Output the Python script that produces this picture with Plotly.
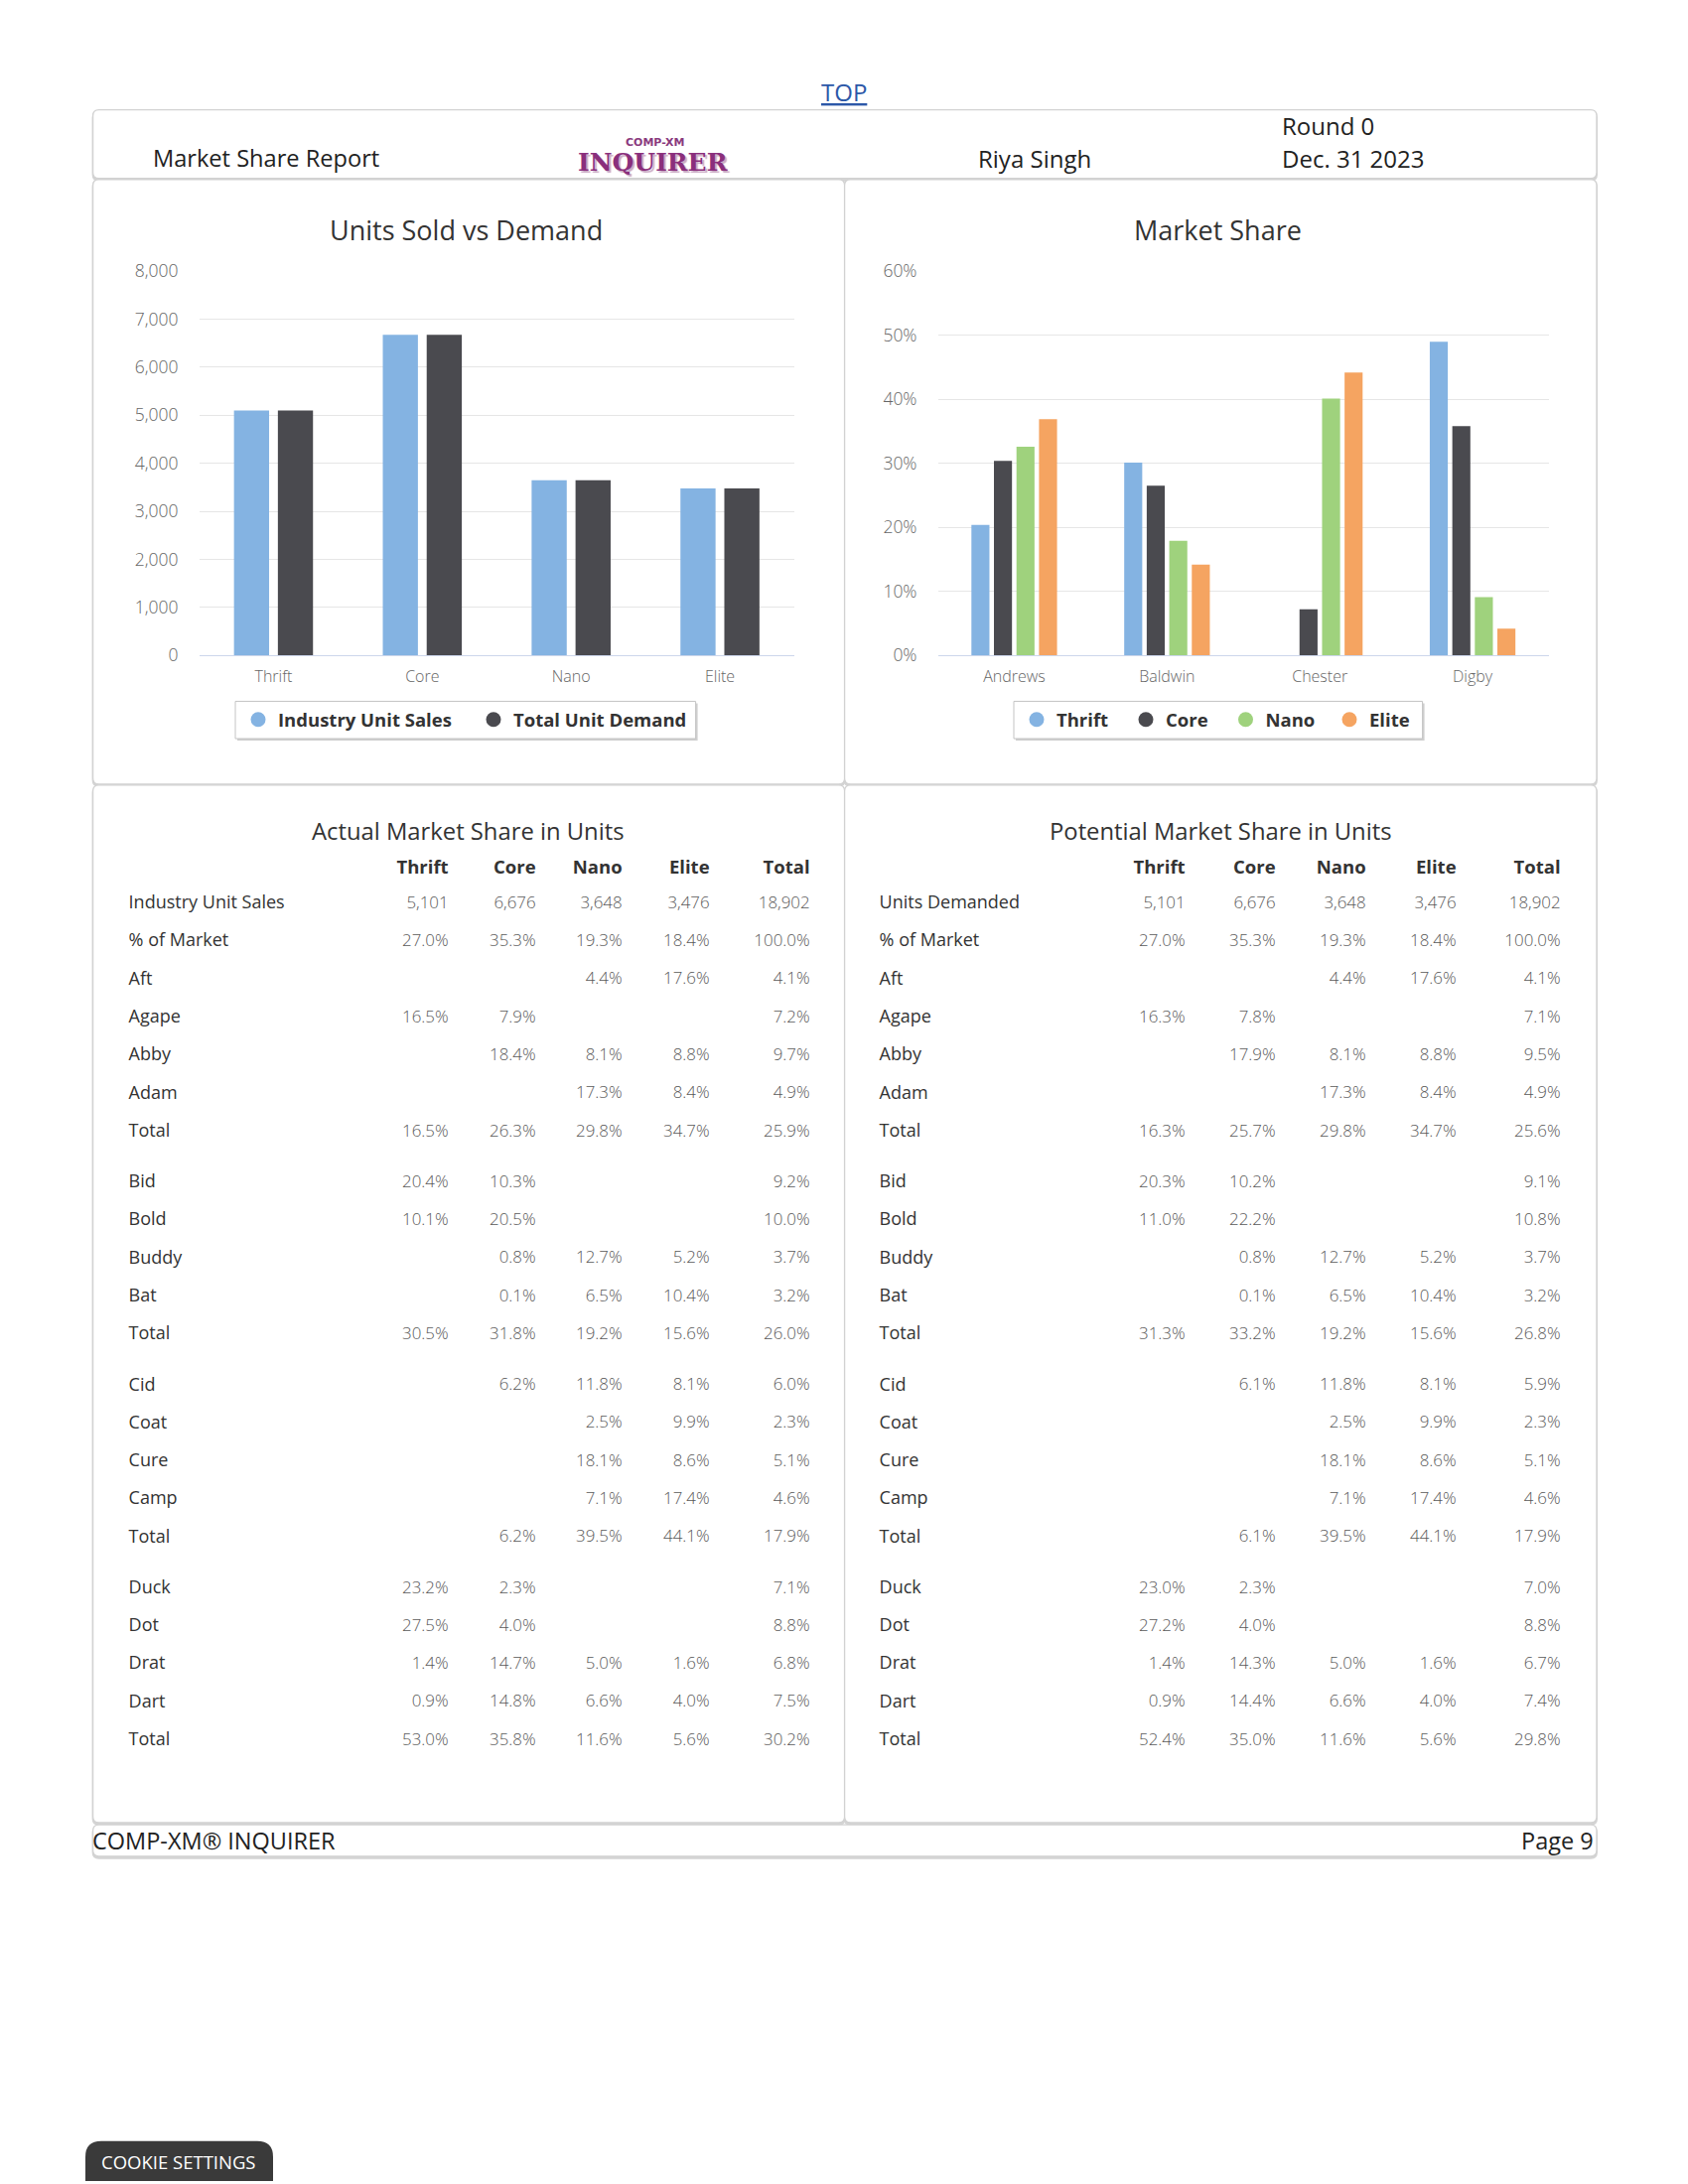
import plotly.graph_objects as go

W, H = 1700, 2200
FONT = "Open Sans, DejaVu Sans, sans-serif"

# ------------------------------------------------------------------ data
segments = ["Thrift", "Core", "Nano", "Elite"]
industry_unit_sales = [5101, 6676, 3648, 3476]
total_unit_demand = [5101, 6676, 3648, 3476]

companies = ["Andrews", "Baldwin", "Chester", "Digby"]
share_thrift = [20.4, 30.1, None, 49.0]
share_core = [30.4, 26.5, 7.2, 35.8]
share_nano = [32.6, 17.9, 40.1, 9.1]
share_elite = [36.9, 14.2, 44.2, 4.2]

table_columns = ["Thrift", "Core", "Nano", "Elite", "Total"]

actual_units_label = "Industry Unit Sales"
actual_units = [5101, 6676, 3648, 3476, 18902]
actual_pct_market = [27.0, 35.3, 19.3, 18.4, 100.0]

potential_units_label = "Units Demanded"
potential_units = [5101, 6676, 3648, 3476, 18902]
potential_pct_market = [27.0, 35.3, 19.3, 18.4, 100.0]

product_groups = [
    ["Aft", "Agape", "Abby", "Adam", "Total"],
    ["Bid", "Bold", "Buddy", "Bat", "Total"],
    ["Cid", "Coat", "Cure", "Camp", "Total"],
    ["Duck", "Dot", "Drat", "Dart", "Total"],
]

actual_andrews = [
    [None, None, 4.4, 17.6, 4.1],
    [16.5, 7.9, None, None, 7.2],
    [None, 18.4, 8.1, 8.8, 9.7],
    [None, None, 17.3, 8.4, 4.9],
    [16.5, 26.3, 29.8, 34.7, 25.9],
]
actual_baldwin = [
    [20.4, 10.3, None, None, 9.2],
    [10.1, 20.5, None, None, 10.0],
    [None, 0.8, 12.7, 5.2, 3.7],
    [None, 0.1, 6.5, 10.4, 3.2],
    [30.5, 31.8, 19.2, 15.6, 26.0],
]
actual_chester = [
    [None, 6.2, 11.8, 8.1, 6.0],
    [None, None, 2.5, 9.9, 2.3],
    [None, None, 18.1, 8.6, 5.1],
    [None, None, 7.1, 17.4, 4.6],
    [None, 6.2, 39.5, 44.1, 17.9],
]
actual_digby = [
    [23.2, 2.3, None, None, 7.1],
    [27.5, 4.0, None, None, 8.8],
    [1.4, 14.7, 5.0, 1.6, 6.8],
    [0.9, 14.8, 6.6, 4.0, 7.5],
    [53.0, 35.8, 11.6, 5.6, 30.2],
]

potential_andrews = [
    [None, None, 4.4, 17.6, 4.1],
    [16.3, 7.8, None, None, 7.1],
    [None, 17.9, 8.1, 8.8, 9.5],
    [None, None, 17.3, 8.4, 4.9],
    [16.3, 25.7, 29.8, 34.7, 25.6],
]
potential_baldwin = [
    [20.3, 10.2, None, None, 9.1],
    [11.0, 22.2, None, None, 10.8],
    [None, 0.8, 12.7, 5.2, 3.7],
    [None, 0.1, 6.5, 10.4, 3.2],
    [31.3, 33.2, 19.2, 15.6, 26.8],
]
potential_chester = [
    [None, 6.1, 11.8, 8.1, 5.9],
    [None, None, 2.5, 9.9, 2.3],
    [None, None, 18.1, 8.6, 5.1],
    [None, None, 7.1, 17.4, 4.6],
    [None, 6.1, 39.5, 44.1, 17.9],
]
potential_digby = [
    [23.0, 2.3, None, None, 7.0],
    [27.2, 4.0, None, None, 8.8],
    [1.4, 14.3, 5.0, 1.6, 6.7],
    [0.9, 14.4, 6.6, 4.0, 7.4],
    [52.4, 35.0, 11.6, 5.6, 29.8],
]

# ------------------------------------------------------------------ styling / layout helpers
C_BLUE, C_DARK, C_GREEN, C_ORANGE = "#84b3e2", "#4a4a4f", "#9fd27d", "#f5a461"


def X(px):
    return px / W


def Y(py):
    return 1 - py / H


fig = go.Figure()
LEG_FONT = dict(family=FONT, size=18.5, color="#333333", weight="bold")
legend_layouts = {}
LEG_Y = 712


def legend_entry(idx, name, color, center_x, xa, ya):
    key = "legend" if idx == 1 else f"legend{idx}"
    fig.add_trace(go.Scatter(x=[None], y=[None], mode="markers", name=name,
                             marker=dict(color=color, size=15, symbol="circle"),
                             xaxis=xa, yaxis=ya, legend=key, hoverinfo="skip"))
    legend_layouts[key] = dict(orientation="h", x=X(center_x - 20), xanchor="left",
                               y=Y(LEG_Y), yanchor="middle", bgcolor="rgba(0,0,0,0)",
                               borderwidth=0, font=LEG_FONT, itemsizing="trace")


# ---- chart 1 : units sold vs demand
fig.add_trace(go.Bar(x=segments, y=industry_unit_sales, name="Industry Unit Sales",
                     marker=dict(color=C_BLUE, line_width=0), xaxis="x", yaxis="y",
                     showlegend=False, hoverinfo="skip"))
fig.add_trace(go.Bar(x=segments, y=total_unit_demand, name="Total Unit Demand",
                     marker=dict(color=C_DARK, line_width=0), xaxis="x", yaxis="y",
                     showlegend=False, hoverinfo="skip"))
legend_entry(1, "Industry Unit Sales", C_BLUE, 252, "x", "y")
legend_entry(2, "Total Unit Demand", C_DARK, 489, "x", "y")

# ---- chart 2 : market share
for nm, vals, col in [("Thrift", share_thrift, C_BLUE), ("Core", share_core, C_DARK),
                      ("Nano", share_nano, C_GREEN), ("Elite", share_elite, C_ORANGE)]:
    fig.add_trace(go.Bar(x=companies, y=vals, name=nm, marker=dict(color=col, line_width=0),
                         xaxis="x2", yaxis="y2", showlegend=False, hoverinfo="skip"))
for i, (nm, col, cxp) in enumerate([("Thrift", C_BLUE, 1036), ("Core", C_DARK, 1146),
                                    ("Nano", C_GREEN, 1246.5), ("Elite", C_ORANGE, 1351)]):
    legend_entry(3 + i, nm, col, cxp, "x2", "y2")


# ---- tables (text cells placed through a hidden pixel-scaled axis pair)
ROW0, PITCH, GROUP_GAP, HEAD_Y = 899.5, 38.69, 13.2, 863.5


def fmt_pct(v):
    return "" if v is None else f"{v:.1f}%"


def add_table(units_label, units, pct, groups, label_x, col_x):
    rows = [(units_label, [f"{v:,}" for v in units], 0),
            ("% of Market", [fmt_pct(v) for v in pct], 0)]
    for g, (names, vals) in enumerate(zip(product_groups, groups)):
        for nm, rv in zip(names, vals):
            rows.append((nm, [fmt_pct(v) for v in rv], g))
    lab_x, lab_y, lab_t = [], [], []
    num_x, num_y, num_t = [], [], []
    for i, (nm, cells, g) in enumerate(rows):
        yy = ROW0 + PITCH * i + GROUP_GAP * g
        lab_x.append(label_x)
        lab_y.append(yy)
        lab_t.append(nm)
        for cx, t in zip(col_x, cells):
            if t:
                num_x.append(cx)
                num_y.append(yy)
                num_t.append(t)
    fig.add_trace(go.Scatter(x=lab_x, y=lab_y, text=lab_t, mode="text", textposition="middle right",
                             textfont=dict(family=FONT, size=18, color="#333333"),
                             xaxis="x3", yaxis="y3", showlegend=False, hoverinfo="skip", cliponaxis=False))
    fig.add_trace(go.Scatter(x=num_x, y=num_y, text=num_t, mode="text", textposition="middle left",
                             textfont=dict(family=FONT, size=16.9, color="#5a5a5a", weight=300),
                             xaxis="x3", yaxis="y3", showlegend=False, hoverinfo="skip", cliponaxis=False))
    fig.add_trace(go.Scatter(x=col_x, y=[HEAD_Y] * len(col_x), text=table_columns, mode="text",
                             textposition="middle left",
                             textfont=dict(family=FONT, size=18.5, color="#333333", weight="bold"),
                             xaxis="x3", yaxis="y3", showlegend=False, hoverinfo="skip", cliponaxis=False))


add_table(actual_units_label, actual_units, actual_pct_market,
          [actual_andrews, actual_baldwin, actual_chester, actual_digby],
          121.6, [443.6, 531.6, 618.6, 706.6, 807.6])
add_table(potential_units_label, potential_units, potential_pct_market,
          [potential_andrews, potential_baldwin, potential_chester, potential_digby],
          877.6, [1185.6, 1276.6, 1367.6, 1458.6, 1563.6])


# ---- panels
def rrect(x0, y0, x1, y1, r=6):
    return (f"M {X(x0 + r)},{Y(y0)} L {X(x1 - r)},{Y(y0)} Q {X(x1)},{Y(y0)} {X(x1)},{Y(y0 + r)} "
            f"L {X(x1)},{Y(y1 - r)} Q {X(x1)},{Y(y1)} {X(x1 - r)},{Y(y1)} "
            f"L {X(x0 + r)},{Y(y1)} Q {X(x0)},{Y(y1)} {X(x0)},{Y(y1 - r)} "
            f"L {X(x0)},{Y(y0 + r)} Q {X(x0)},{Y(y0)} {X(x0 + r)},{Y(y0)} Z")


L, M, R = 85.6, 842.6, 1600
panels = [(L, 90.6, R, 160.4), (L, 161.5, M, 777.3), (M, 161.5, R, 777.3),
          (L, 778.3, M, 1835), (M, 778.3, R, 1835), (L, 1837.2, R, 1869.2)]
shapes = []
for (x0, y0, x1, y1) in panels:
    shapes.append(dict(type="path", xref="paper", yref="paper", path=rrect(x0, y0 + 2, x1, y1 + 2),
                       line=dict(color="#d4d4d4", width=2), fillcolor="#d4d4d4", layer="below"))
for (x0, y0, x1, y1) in panels:
    shapes.append(dict(type="path", xref="paper", yref="paper", path=rrect(x0, y0, x1, y1),
                       line=dict(color="#d2d2d2", width=1.3), fillcolor="white", layer="below"))

# legend boxes
for (x0, x1) in [(229, 692.6), (1013, 1424.6)]:
    shapes.append(dict(type="rect", xref="paper", yref="paper", x0=X(x0 + 2), x1=X(x1 + 2),
                       y0=Y(693 + 2), y1=Y(731 + 2), line=dict(width=0), fillcolor="#cfcfcf", layer="below"))
    shapes.append(dict(type="rect", xref="paper", yref="paper", x0=X(x0), x1=X(x1),
                       y0=Y(693), y1=Y(731), line=dict(color="#c4c4c4", width=1),
                       fillcolor="white", layer="below"))

# cookie button (rounded top)
cx0, cy0, cx1, cy1, cr = 78, 2159.4, 267, 2200, 16
shapes.append(dict(type="path", xref="paper", yref="paper", layer="below",
                   path=(f"M {X(cx0)},{Y(cy1)} L {X(cx0)},{Y(cy0 + cr)} Q {X(cx0)},{Y(cy0)} {X(cx0 + cr)},{Y(cy0)} "
                         f"L {X(cx1 - cr)},{Y(cy0)} Q {X(cx1)},{Y(cy0)} {X(cx1)},{Y(cy0 + cr)} L {X(cx1)},{Y(cy1)} Z"),
                   fillcolor="#3a3a3a", line=dict(width=0)))

# ---- annotations (page text)
ann = []


def text(t, x, y, size, color="#222222", xanchor="left", family=FONT, **font_kw):
    ann.append(dict(text=t, x=X(x), y=Y(y), xref="paper", yref="paper", showarrow=False,
                    xanchor=xanchor, yanchor="middle",
                    font=dict(family=family, size=size, color=color, **font_kw)))


text("TOP", 842.3, 72.6, 24, color="#2c58a8", xanchor="center", lineposition="under")
text("Market Share Report", 144.2, 140, 23.6)
text("Riya Singh", 975.2, 140, 24)
text("Round 0", 1280.8, 106.6, 24)
text("Dec. 31 2023", 1280.8, 140, 24)
text("<b>COMP-XM</b>", 651, 124, 11, color="#8a3a7e", xanchor="center", family="DejaVu Sans")
text("<b>INQUIRER</b>", 649, 144, 25, color="#8a2f7c", xanchor="center", family="DejaVu Serif",
     shadow="2px 2px 1px #c9aac4")
text("Units Sold vs Demand", 461, 212.6, 27, color="#333333", xanchor="center")
text("Market Share", 1218.6, 212.6, 27, color="#333333", xanchor="center")
text("Actual Market Share in Units", 463.6, 824.7, 23.8, color="#333333", xanchor="center")
text("Potential Market Share in Units", 1221, 824.7, 23.8, color="#333333", xanchor="center")
text("COMP-XM® INQUIRER", 82.8, 1853.6, 23.5)
text("Page 9", 1599.4, 1853.6, 23.5, xanchor="right")
text("COOKIE SETTINGS", 172.3, 2180.4, 18.5, color="#ffffff", xanchor="center")

# ---- axes
common_x = dict(showline=True, linecolor="#ccd6eb", linewidth=1, showgrid=False, zeroline=False,
                ticks="", tickfont=dict(family=FONT, size=16, color="#666666", weight=300),
                ticklabelstandoff=7, fixedrange=True)
common_y = dict(showline=False, showgrid=True, gridcolor="#e6e6e6", gridwidth=1, zeroline=False,
                ticks="", tickfont=dict(family=FONT, size=17.5, color="#666666", weight=300),
                ticklabelstandoff=20, fixedrange=True)

fig.update_layout(
    width=W, height=H, autosize=False,
    margin=dict(l=0, r=0, t=0, b=0, pad=0),
    paper_bgcolor="white", plot_bgcolor="rgba(0,0,0,0)",
    barmode="group", bargap=0.41, bargroupgap=0.2,
    font=dict(family=FONT, color="#333333"),
    xaxis=dict(domain=[X(192.5), X(792)], anchor="y", **common_x),
    yaxis=dict(domain=[Y(646.3), Y(255)], anchor="x", range=[0, 8000], dtick=1000,
               tickformat=",d", **common_y),
    xaxis2=dict(domain=[X(936.5), X(1552)], anchor="y2", **common_x),
    yaxis2=dict(domain=[Y(646.3), Y(255)], anchor="x2", range=[0, 60], dtick=10,
                ticksuffix="%", **common_y),
    xaxis3=dict(domain=[0, 1], range=[0, W], visible=False, fixedrange=True, anchor="y3"),
    yaxis3=dict(domain=[0, 1], range=[H, 0], visible=False, fixedrange=True, anchor="x3"),
    shapes=shapes,
    annotations=ann,
    hovermode=False,
    **legend_layouts,
)

fig.write_html("out.html")
